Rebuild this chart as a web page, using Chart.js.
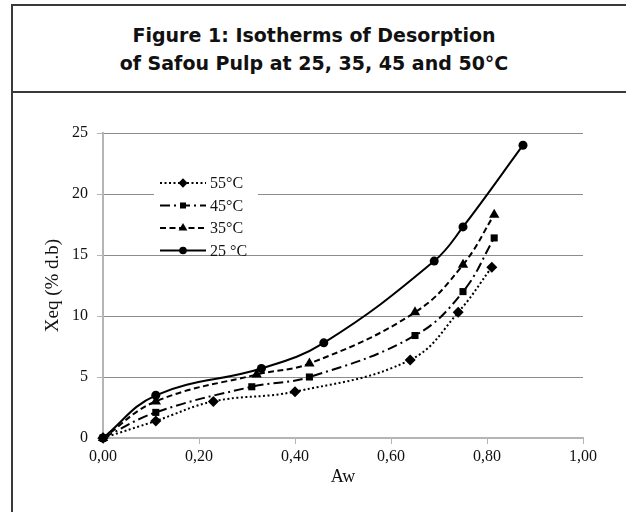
<!DOCTYPE html>
<html>
<head>
<meta charset="utf-8">
<script src="https://cdn.jsdelivr.net/npm/chart.js@4"></script>
<style>
  html, body { margin: 0; padding: 0; background: #fff; }
  body { width: 626px; height: 512px; position: relative; overflow: hidden; }
  .frame { position: absolute; left: 11px; top: 4px; width: 640px; height: 540px; border: 2px solid #3a3a3a; box-sizing: border-box; }
  .divider { position: absolute; left: 11px; top: 91px; width: 620px; height: 2px; background: #3a3a3a; }
  .fig-title { position: absolute; left: 12px; width: 604px; top: 21px; text-align: center;
    font: bold 19px "DejaVu Sans", Verdana, sans-serif; line-height: 28px; color: #111; }
  .chart-box { position: absolute; left: 0; top: 0; width: 626px; height: 512px; }
</style>
</head>
<body>
<div class="frame"></div>
<div class="divider"></div>
<div class="fig-title">Figure 1: Isotherms of Desorption<br>of Safou Pulp at 25, 35, 45 and 50°C</div>
<div class="chart-box"><canvas id="isoChart" width="626" height="512"></canvas></div>

<script>
// ─── data ───
const seriesLabels = ['55°C', '45°C', '35°C', '25 °C'];

const aw55  = [0, 0.11, 0.23, 0.40, 0.64, 0.74, 0.81];
const xeq55 = [0, 1.4, 3.0, 3.8, 6.4, 10.3, 14.0];

const aw45  = [0, 0.11, 0.31, 0.43, 0.65, 0.75, 0.815];
const xeq45 = [0, 2.1, 4.2, 5.0, 8.4, 12.0, 16.4];

const aw35  = [0, 0.11, 0.32, 0.43, 0.65, 0.75, 0.815];
const xeq35 = [0, 3.0, 5.2, 6.1, 10.3, 14.2, 18.3];

const aw25  = [0, 0.11, 0.33, 0.46, 0.69, 0.75, 0.875];
const xeq25 = [0, 3.5, 5.7, 7.8, 14.5, 17.3, 24.0];

const xTicks = [0, 0.2, 0.4, 0.6, 0.8, 1.0];
const yTicks = [0, 5, 10, 15, 20, 25];

const toPoints = (xs, ys) => xs.map((x, i) => ({ x, y: ys[i] }));
const comma = v => Number(v).toFixed(2).replace('.', ',');

const INK = '#000';
const AXIS_GREY = '#b5b5b5';
const SERIF = '"Liberation Serif", "Times New Roman", serif';

function mkSet(label, xs, ys, dash, style, radius) {
  return {
    label,
    data: toPoints(xs, ys),
    borderColor: INK,
    backgroundColor: INK,
    borderWidth: 2,
    borderDash: dash,
    pointStyle: style,
    pointRadius: radius,
    pointHoverRadius: radius,
    pointBorderWidth: 0,
    tension: 0.4,
    clip: false
  };
}

const datasets = [
  mkSet(seriesLabels[0], aw55, xeq55, [2, 2.5], 'rectRot', 5.5),
  mkSet(seriesLabels[1], aw45, xeq45, [10, 4, 2, 4], 'rect', 5),
  mkSet(seriesLabels[2], aw35, xeq35, [6, 3.5], 'triangle', 6),
  mkSet(seriesLabels[3], aw25, xeq25, [], 'circle', 4.5)
];

// legend drawn inside the plot, Excel style (line sample + marker in the middle)
const insideLegend = {
  id: 'insideLegend',
  afterDraw(chart) {
    const { ctx } = chart;
    const x0 = 160, x1 = 206, top = 183, step = 22.5;
    ctx.save();
    ctx.fillStyle = '#fff';
    ctx.fillRect(154, 171, 104, 82);
    chart.data.datasets.forEach((ds, i) => {
      const y = top + i * step;
      ctx.strokeStyle = INK;
      ctx.lineWidth = 2;
      ctx.setLineDash(ds.borderDash);
      ctx.beginPath();
      ctx.moveTo(x0, y);
      ctx.lineTo(x1, y);
      ctx.stroke();
      ctx.setLineDash([]);
      ctx.fillStyle = INK;
      Chart.helpers.drawPoint(ctx, {
        pointStyle: ds.pointStyle, radius: ds.pointRadius * 0.85, borderWidth: 0
      }, (x0 + x1) / 2, y);
      ctx.fillStyle = '#111';
      ctx.font = '16px ' + SERIF;
      ctx.textBaseline = 'middle';
      ctx.textAlign = 'left';
      ctx.fillText(ds.label, x1 + 4, y + 1);
    });
    ctx.restore();
  }
};

new Chart(document.getElementById('isoChart'), {
  type: 'line',
  data: { datasets },
  plugins: [insideLegend],
  options: {
    responsive: false,
    animation: false,
    events: [],
    layout: { padding: { left: 13, top: 133, right: 43, bottom: 0 } },
    plugins: { legend: { display: false }, tooltip: { enabled: false } },
    scales: {
      x: {
        type: 'linear',
        min: 0, max: 1,
        afterBuildTicks: s => { s.ticks = xTicks.map(v => ({ value: v })); },
        afterFit: s => { s.height = 74; },
        grid: { drawOnChartArea: false, drawTicks: true, tickLength: 6, tickColor: AXIS_GREY },
        border: { color: AXIS_GREY, width: 2 },
        ticks: { color: '#111', font: { family: SERIF, size: 16 }, padding: 3, callback: v => comma(v), maxRotation: 0 },
        title: { display: true, text: 'Aw', color: '#111', font: { family: SERIF, size: 18 }, padding: { top: 0, bottom: 24 } }
      },
      y: {
        type: 'linear',
        min: 0, max: 25,
        afterBuildTicks: s => { s.ticks = yTicks.map(v => ({ value: v })); },
        afterFit: s => { s.width = 90; },
        grid: {
          color: ctx => ctx.tick && ctx.tick.value === 0 ? 'rgba(0,0,0,0)' : '#8c8c8c',
          borderDash: [2, 1],
          lineWidth: 1,
          drawTicks: true,
          tickLength: 6,
          tickColor: AXIS_GREY,
          tickBorderDash: []
        },
        border: { color: AXIS_GREY, width: 2 },
        ticks: { color: '#111', font: { family: SERIF, size: 16 }, padding: 9 },
        title: { display: true, text: 'Xeq (% d.b)', color: '#111', font: { family: SERIF, size: 19 }, padding: { top: 29, bottom: 0 } }
      }
    }
  }
});
</script>
</body>
</html>
